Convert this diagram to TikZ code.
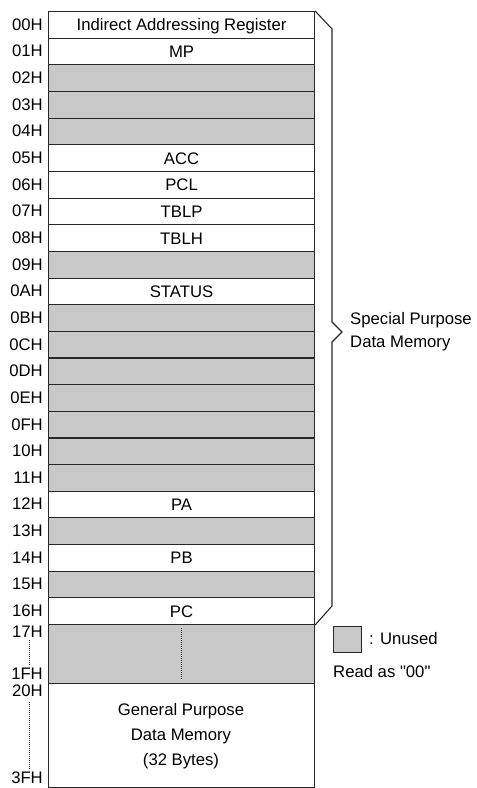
\documentclass[tikz,border=0pt]{standalone}
\usepackage{fontspec}
\setmainfont{Liberation Sans}
\newfontfamily\rawsans{Liberation Sans}
\definecolor{unusedgray}{RGB}{200,200,201}
\definecolor{linegray}{RGB}{40,40,40}
\begin{document}
\begin{tikzpicture}[x=1pt,y=-1pt,
  txt/.style={font=\fontsize{16.7}{19}\selectfont},
  cell/.style={txt, draw=linegray, line width=1.1pt, minimum width=266pt,
    minimum height=26.65pt, inner sep=0pt, text height=11.9pt, text depth=0pt},
  used/.style={cell, fill=white},
  unused/.style={cell, fill=unusedgray},
  addr/.style={txt, anchor=east, inner sep=0pt, text height=11.9pt, text depth=0pt},
  plain/.style={txt, inner sep=0pt, text height=11.9pt, text depth=0pt},
  dotline/.style={line width=0.8pt, dash pattern=on 0.9pt off 1.1pt, linegray},
  brace/.style={draw=linegray, line width=1.1pt, line join=miter}
]
\useasboundingbox (0,0) rectangle (477,788);

\foreach \n/\sty/\txt [count=\i from 0] in {
  00/used/Indirect Addressing Register, 01/used/MP, 02/unused/{}, 03/unused/{},
  04/unused/{}, 05/used/ACC, 06/used/PCL, 07/used/TBLP, 08/used/TBLH,
  09/unused/{}, 0A/used/STATUS, 0B/unused/{}, 0C/unused/{}, 0D/unused/{},
  0E/unused/{}, 0F/unused/{}, 10/unused/{}, 11/unused/{}, 12/used/PA,
  13/unused/{}, 14/used/PB, 15/unused/{}, 16/used/PC}
{
  \pgfmathsetmacro\ytop{11+\i*26.65}
  \node[\sty, anchor=north west] (r\n) at (48,\ytop) {\txt};
  \node[addr] (a\n) at (43,\ytop+13.3) {\n H};
}

% unused block 17H-1FH
\node[cell, fill=unusedgray, minimum height=59pt, anchor=north west] (u17) at (48,624) {};
\coordinate (u17t) at (181,628);
\coordinate (u17b) at (181,679);
\draw[dotline] (u17t) -- (u17b);
\node[addr] (a17) at (43,632) {17H};
\node[addr] (a1F) at (43,674) {1FH};
\draw[dotline] (29,640) -- (29,665);

% general purpose block
\node[cell, fill=white, minimum height=104pt, anchor=north west] (g20) at (48,683) {};
\node[plain] (gp1) at (181,710) {General Purpose};
\node[plain] (gp2) at (181,735) {Data Memory};
\node[plain] (gp3) at (181,760) {(32 Bytes)};
\node[addr] (a20) at (43,691) {20H};
\node[addr] (a3F) at (43,778) {3FH};
\draw[dotline] (29,702) -- (29,769);

% brace
\coordinate (b1) at (332,29);
\coordinate (b2) at (332,322);
\coordinate (b3) at (342,332);
\coordinate (b4) at (332,342);
\coordinate (b5) at (332,606);
\draw[brace] (r00.north east) -- (b1) -- (b2) -- (b3) -- (b4) -- (b5) -- (r16.south east);
\node[plain, anchor=west] (sp1) at (350,319) {Special Purpose};
\node[plain, anchor=west] (sp2) at (350,342) {Data Memory};

% legend
\node[draw=linegray, line width=1.1pt, fill=unusedgray, minimum width=28pt, minimum height=26pt, inner sep=0pt, anchor=north west] (leg) at (333,626) {};
\node[plain, anchor=west] (legt) at (369,639) {: Unused};
\node[plain, anchor=west, font=\rawsans\fontsize{16.7}{19}\selectfont] (legr) at (333,672) {Read as "00"};
\end{tikzpicture}
\end{document}
